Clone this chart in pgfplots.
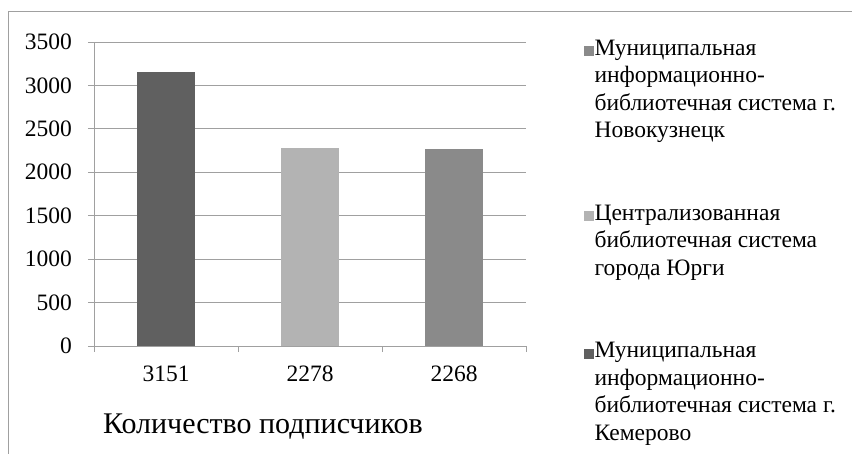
\documentclass[border=0pt]{standalone}
\usepackage{fontspec}
\setmainfont{Liberation Serif}
\usepackage{pgfplots}
\pgfplotsset{compat=1.18}
\definecolor{cdark}{RGB}{96,96,96}
\definecolor{clight}{RGB}{179,179,179}
\definecolor{cmed}{RGB}{138,138,138}
\definecolor{gridgray}{RGB}{160,160,160}
\newcommand\ls{\rule{0pt}{26bp}}
\begin{document}
\begin{tikzpicture}
\useasboundingbox (0,0) rectangle (852bp,454bp);
\draw[gridgray, line width=1bp] (8bp,0) -- (8bp,442bp) -- (852bp,442bp);
\begin{axis}[
  at={(94bp,108bp)}, anchor=south west,
  scale only axis, width=432bp, height=304bp,
  xmin=-0.5, xmax=2.5, ymin=0, ymax=3500,
  axis x line*=bottom, axis y line*=left,
  axis line style={draw=gridgray, line width=0.8bp},
  ytick={0,500,...,3500},
  xtick={-0.5,0.5,1.5,2.5}, xticklabels={},
  extra x ticks={0,1,2}, extra x tick labels={3151,2278,2268},
  extra x tick style={major tick length=0pt},
  tick align=outside, major tick length=6bp,
  tick style={draw=gridgray, line width=0.8bp},
  ymajorgrids, grid style={draw=gridgray, line width=0.8bp},
  /pgf/number format/assume math mode=true,
  /pgf/number format/1000 sep={},
  tick label style={font=\fontsize{23.5bp}{28bp}\selectfont},
  yticklabel style={inner sep=0pt, xshift=-16bp},
  xticklabel style={inner sep=0pt, yshift=-20bp},
  xlabel={Количество подписчиков},
  xlabel style={at={(axis description cs:0.391,0)}, anchor=base, yshift=-87bp, inner sep=0pt, font=\fontsize{30bp}{36bp}\selectfont},
  ybar, bar width=58bp, bar shift=0pt,
  legend cell align=left,
  legend image code/.code={\fill[#1] (0bp,-13.5bp) rectangle (9.5bp,-3.5bp);},
  legend style={at={(axis description cs:1.134,1.0428)}, anchor=north west, draw=none, fill=none, inner sep=0pt, row sep=0pt, column sep=1bp, font=\fontsize{23.5bp}{27.7bp}\selectfont, nodes={inner sep=0pt}},
]
\addplot[fill=cmed, draw=none] coordinates {(2,2268)};
\addlegendentry{\ls Муниципальная}
\addlegendimage{empty legend}\addlegendentry{\ls информационно-}
\addlegendimage{empty legend}\addlegendentry{\ls библиотечная система г.}
\addlegendimage{empty legend}\addlegendentry{\ls Новокузнецк}
\addlegendimage{empty legend}\addlegendentry{\ls}
\addlegendimage{empty legend}\addlegendentry{\ls}
\addplot[fill=clight, draw=none] coordinates {(1,2278)};
\addlegendentry{\ls Централизованная}
\addlegendimage{empty legend}\addlegendentry{\ls библиотечная система}
\addlegendimage{empty legend}\addlegendentry{\ls города Юрги}
\addlegendimage{empty legend}\addlegendentry{\ls}
\addlegendimage{empty legend}\addlegendentry{\ls}
\addplot[fill=cdark, draw=none] coordinates {(0,3151)};
\addlegendentry{\ls Муниципальная}
\addlegendimage{empty legend}\addlegendentry{\ls информационно-}
\addlegendimage{empty legend}\addlegendentry{\ls библиотечная система г.}
\addlegendimage{empty legend}\addlegendentry{\ls Кемерово}
\end{axis}
\end{tikzpicture}
\end{document}
